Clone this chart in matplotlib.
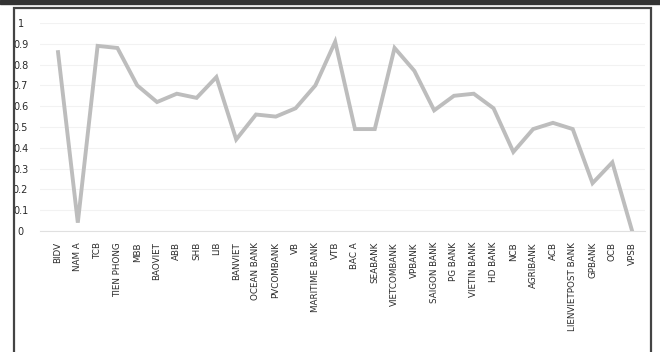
import matplotlib.pyplot as plt
from matplotlib.patches import Rectangle

banks = ['BIDV', 'NAM A', 'TCB', 'TIEN PHONG', 'MBB', 'BAOVIET', 'ABB', 'SHB', 'LIB',
         'BANVIET', 'OCEAN BANK', 'PVCOMBANK', 'VB', 'MARITIME BANK', 'VTB', 'BAC A',
         'SEABANK', 'VIETCOMBANK', 'VPBANK', 'SAIGON BANK', 'PG BANK', 'VIETIN BANK',
         'HD BANK', 'NCB', 'AGRIBANK', 'ACB', 'LIENVIETPOST BANK', 'GPBANK', 'OCB', 'VPSB']
scores = [0.86, 0.04, 0.89, 0.88, 0.70, 0.62, 0.66, 0.64, 0.74,
          0.44, 0.56, 0.55, 0.59, 0.70, 0.91, 0.49,
          0.49, 0.88, 0.77, 0.58, 0.65, 0.66,
          0.59, 0.38, 0.49, 0.52, 0.49, 0.23, 0.33, 0.0]
yticks = [0, 0.1, 0.2, 0.3, 0.4, 0.5, 0.6, 0.7, 0.8, 0.9, 1]
ylabels = ['0', '0.1', '0.2', '0.3', '0.4', '0.5', '0.6', '0.7', '0.8', '0.9', '1']

fig = plt.figure(figsize=(6.6, 3.52), dpi=100)
fig.patch.set_facecolor('white')

# scanned frame
fig.patches.append(Rectangle((0, 1 - 4 / 352), 1, 4 / 352, transform=fig.transFigure,
                             color='#333333', zorder=0))
fig.patches.append(Rectangle((14 / 660, -0.05), 637 / 660, 1.05 - 8 / 352,
                             transform=fig.transFigure, fill=False,
                             edgecolor='#444444', lw=1.6, zorder=0))

ax = fig.add_axes([40 / 660, 121 / 352, 605 / 660, 208 / 352])
x = list(range(len(banks)))
ax.plot(x, scores, color='#bdbdbd', lw=2.8, solid_joinstyle='miter')

ax.set_xlim(-0.91, 29.65)
ax.set_ylim(0, 1)
ax.set_yticks(yticks)
ax.set_yticklabels(ylabels, fontsize=7, color='#2a2a2a')
ax.set_xticks(x)
ax.set_xticklabels(banks, rotation=90, fontsize=6.3, color='#2a2a2a')
ax.tick_params(length=0, pad=8)
ax.tick_params(axis='y', pad=14)
for lbl in ax.get_yticklabels():
    lbl.set_horizontalalignment('center')

ax.grid(axis='y', color='#f2f2f2', lw=0.8)
for s in ['top', 'right', 'left']:
    ax.spines[s].set_visible(False)
ax.spines['bottom'].set_color('#e0e0e0')

fig.savefig('out.png', dpi=100)
